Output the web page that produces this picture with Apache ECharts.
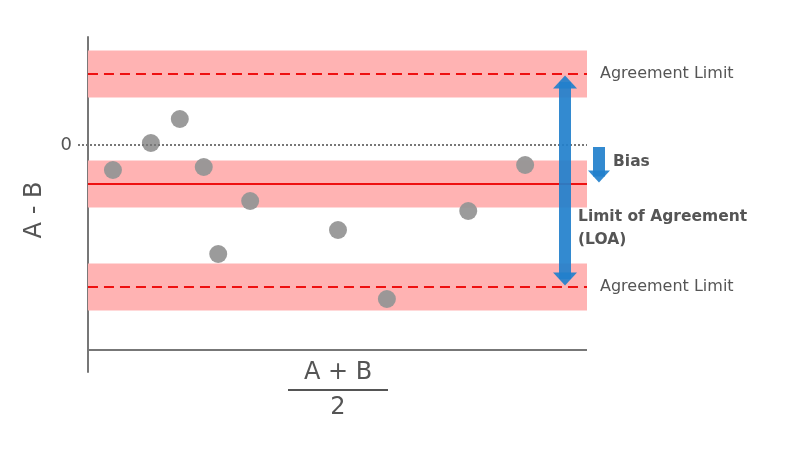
<!DOCTYPE html>
<html>
<head>
<meta charset="utf-8">
<script src="https://cdn.jsdelivr.net/npm/echarts@6/dist/echarts.min.js"></script>
<style>html,body{margin:0;padding:0;background:#fff;}#c{width:800px;height:450px;}</style>
</head>
<body>
<div id="c"></div>
<script>
// ---- data ----
var meanAB = [5.0, 12.6, 18.4, 23.2, 26.1, 32.5, 50.1, 59.9, 76.2, 87.6];
var diffAB = [-2.5, 0.2, 2.6, -2.2, -10.9, -5.6, -8.5, -15.4, -6.6, -2.0];
var bias = -3.9;
var upperLimit = 7.1;
var lowerLimit = -14.2;
var bandHalf = 2.35;
var xStart = 0, xEnd = 100, xZeroLineStart = -2;
var xAxisLineY = -20.5;
var yTicks = [0];
var limitLabel = 'Agreement Limit';
var loaArrowX = 95.6, loaArrowTop = 6.3, loaArrowBottom = -13.4;
var biasArrowX = 102.4, biasArrowTop = -0.2, biasArrowBottom = -3.15;

var pts = meanAB.map(function (x, i) { return [x, diffAB[i]]; });
function hline(y, style, label) {
  var a = { coord: [xStart, y], lineStyle: style };
  if (label) a.label = { show: true, position: 'end', formatter: label, distance: 13, color: '#555', fontSize: 16, fontFamily: 'DejaVu Sans' };
  return [a, { coord: [xEnd, y] }];
}
var red = '#ee1111';
var blue = 'rgba(34,128,204,0.92)';

var chart = echarts.init(document.getElementById('c'));
chart.setOption({
  animation: false,
  grid: { left: 78, right: 113.2, top: 37, bottom: 78, containLabel: false },
  xAxis: {
    type: 'value', min: -2, max: 120,
    axisLine: { show: false }, axisTick: { show: false }, axisLabel: { show: false }, splitLine: { show: false }
  },
  yAxis: {
    type: 'value', min: -22.7, max: 10.8,
    axisLine: { show: true, onZero: true, lineStyle: { color: '#777', width: 2 } },
    axisTick: { show: false },
    splitLine: { show: false },
    axisLabel: { customValues: yTicks, color: '#555', fontSize: 18, margin: 6, fontFamily: 'DejaVu Sans' }
  },
  series: [
    {
      type: 'line', data: [], silent: true, z: 1,
      markArea: {
        silent: true,
        itemStyle: { color: '#ffb3b3' },
        data: [
          [{ coord: [xStart, upperLimit + bandHalf] }, { coord: [xEnd, upperLimit - bandHalf] }],
          [{ coord: [xStart, bias + bandHalf] }, { coord: [xEnd, bias - bandHalf] }],
          [{ coord: [xStart, lowerLimit + bandHalf] }, { coord: [xEnd, lowerLimit - bandHalf] }]
        ]
      }
    },
    {
      type: 'line', data: [], silent: true, z: 2,
      markLine: {
        silent: true, symbol: 'none', animation: false,
        label: { show: false },
        data: [
          [{ coord: [xZeroLineStart, 0], lineStyle: { color: '#777', width: 2, type: [2, 2] } }, { coord: [xEnd, 0] }],
          [{ coord: [xStart, xAxisLineY], lineStyle: { color: '#777', width: 2, type: 'solid' } }, { coord: [xEnd, xAxisLineY] }],
          hline(upperLimit, { color: red, width: 2, type: [10, 6] }, limitLabel),
          hline(bias, { color: red, width: 2, type: 'solid' }),
          hline(lowerLimit, { color: red, width: 2, type: [10, 6] }, limitLabel)
        ]
      }
    },
    {
      type: 'scatter', data: pts, symbolSize: 18, z: 3,
      itemStyle: { color: '#969696', opacity: 0.95 }
    },
    {
      type: 'line', data: [], silent: true, z: 4,
      markLine: {
        silent: true, animation: false,
        label: { show: false },
        data: [
          [{ coord: [loaArrowX, loaArrowTop], symbol: 'triangle', symbolSize: [24, 13], lineStyle: { color: blue, width: 12, type: 'solid', opacity: 1 }, itemStyle: { color: blue } },
           { coord: [loaArrowX, loaArrowBottom], symbol: 'triangle', symbolSize: [24, 13] }],
          [{ coord: [biasArrowX, biasArrowTop], symbol: 'none', lineStyle: { color: blue, width: 12, type: 'solid', opacity: 1 }, itemStyle: { color: blue } },
           { coord: [biasArrowX, biasArrowBottom], symbol: 'triangle', symbolSize: [22, 12] }]
        ]
      }
    }
  ],
  graphic: [
    { type: 'text', x: 35, y: 210, rotation: Math.PI / 2, style: { text: 'A - B', fill: '#555', fontSize: 24, fontFamily: 'DejaVu Sans', align: 'center', verticalAlign: 'middle' } },
    { type: 'text', x: 338, y: 373, style: { text: 'A + B', fill: '#555', fontSize: 24, fontFamily: 'DejaVu Sans', align: 'center', verticalAlign: 'middle' } },
    { type: 'line', shape: { x1: 288, y1: 390, x2: 388, y2: 390 }, style: { stroke: '#555', lineWidth: 2 } },
    { type: 'text', x: 338, y: 408, style: { text: '2', fill: '#555', fontSize: 24, fontFamily: 'DejaVu Sans', align: 'center', verticalAlign: 'middle' } },
    { type: 'text', x: 613, y: 162, style: { text: 'Bias', fill: '#555', fontSize: 15.5, fontWeight: 'bold', fontFamily: 'DejaVu Sans', align: 'left', verticalAlign: 'middle' } },
    { type: 'text', x: 578, y: 217, style: { text: 'Limit of Agreement', fill: '#555', fontSize: 15.5, fontWeight: 'bold', fontFamily: 'DejaVu Sans', align: 'left', verticalAlign: 'middle' } },
    { type: 'text', x: 578, y: 240, style: { text: '(LOA)', fill: '#555', fontSize: 15.5, fontWeight: 'bold', fontFamily: 'DejaVu Sans', align: 'left', verticalAlign: 'middle' } }
  ]
});
</script>
</body>
</html>
